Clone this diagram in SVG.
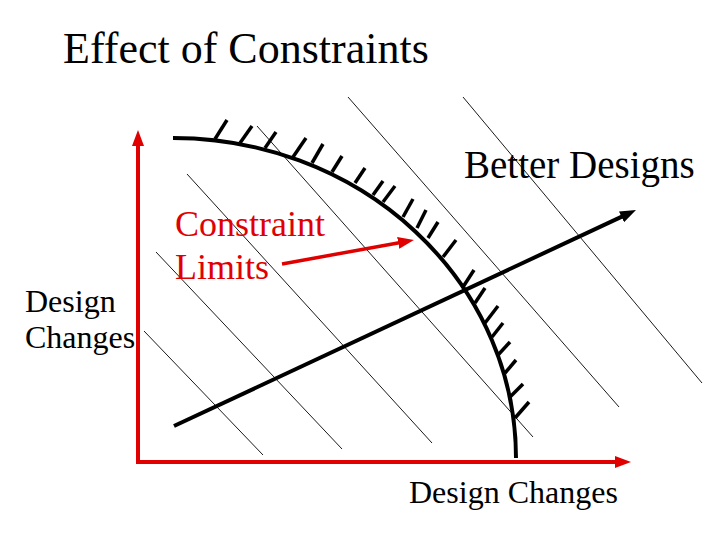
<svg xmlns="http://www.w3.org/2000/svg" width="720" height="540" viewBox="0 0 720 540">
  <style>
    .txt { font-family: "Liberation Serif", "Times New Roman", serif; }
    .black { fill: #000; }
    .red { fill: #e00000; }
    .thin { stroke: #000; stroke-width: 0.9; fill: none; }
    .thick { stroke: #000; stroke-width: 4; fill: none; }
    .tick { stroke: #000; stroke-width: 3.5; stroke-linecap: butt; }
    .redline { stroke: #e00000; fill: none; }
  </style>
  <defs>
    <marker id="headBlack" markerUnits="userSpaceOnUse" viewBox="0 0 16 12" markerWidth="16" markerHeight="12" refX="1" refY="6" orient="auto">
      <path d="M0,0 L16,6 L0,12 z" fill="#000"/>
    </marker>
    <marker id="headRed" markerUnits="userSpaceOnUse" viewBox="0 0 16 12" markerWidth="16" markerHeight="12" refX="1" refY="6" orient="auto-start-reverse">
      <path d="M0,0 L16,6 L0,12 z" fill="#e00000"/>
    </marker>
  </defs>
  <rect width="720" height="540" fill="#fff"/>

  <g id="title">
    <text class="txt black" x="63" y="63" font-size="44">Effect of Constraints</text>
  </g>

  <g id="objective-contours">
    <line class="thin" x1="144" y1="331" x2="263" y2="455"/>
    <line class="thin" x1="156" y1="252" x2="342" y2="449"/>
    <line class="thin" x1="187" y1="174" x2="432" y2="443"/>
    <line class="thin" x1="257" y1="126" x2="533" y2="437"/>
    <line class="thin" x1="348" y1="97" x2="619" y2="407"/>
    <line class="thin" x1="463" y1="97" x2="702" y2="383"/>
  </g>

  <g id="axes">
    <polyline class="redline" stroke-width="4" stroke-linejoin="miter" points="138,145 138,462 616,462" marker-start="url(#headRed)" marker-end="url(#headRed)"/>
  </g>

  <g id="constraint-boundary">
    <path class="thick" d="M173,138 A343,320 0 0 1 516,458"/>
    <g id="hatching">
      <line class="tick" x1="215" y1="139" x2="227" y2="120"/>
      <line class="tick" x1="240" y1="143" x2="252" y2="126"/>
      <line class="tick" x1="265" y1="148" x2="276" y2="132"/>
      <line class="tick" x1="293" y1="157" x2="306" y2="138"/>
      <line class="tick" x1="312" y1="163" x2="323" y2="144"/>
      <line class="tick" x1="332" y1="172" x2="342" y2="156"/>
      <line class="tick" x1="355" y1="183" x2="365" y2="168"/>
      <line class="tick" x1="373" y1="195" x2="383" y2="181"/>
      <line class="tick" x1="383" y1="202" x2="395" y2="186"/>
      <line class="tick" x1="403" y1="217" x2="413" y2="199"/>
      <line class="tick" x1="417" y1="228" x2="426" y2="210"/>
      <line class="tick" x1="428" y1="238" x2="438" y2="222"/>
      <line class="tick" x1="443" y1="257" x2="456" y2="240"/>
      <line class="tick" x1="463" y1="287" x2="474" y2="270"/>
      <line class="tick" x1="475" y1="303" x2="485" y2="288"/>
      <line class="tick" x1="485" y1="323" x2="498" y2="306"/>
      <line class="tick" x1="492" y1="337" x2="503" y2="323"/>
      <line class="tick" x1="498" y1="355" x2="510" y2="342"/>
      <line class="tick" x1="505" y1="373" x2="516" y2="360"/>
      <line class="tick" x1="510" y1="397" x2="523" y2="384"/>
      <line class="tick" x1="515" y1="418" x2="529" y2="402"/>
    </g>
  </g>

  <g id="connectors">
    <line class="thick" x1="174" y1="426" x2="622.4" y2="216.4" marker-end="url(#headBlack)"/>
    <line class="redline" stroke-width="3.5" x1="282" y1="264" x2="399.2" y2="242.7" marker-end="url(#headRed)"/>
  </g>

  <g id="label-better-designs">
    <text class="txt black" x="464" y="178" font-size="39">Better Designs</text>
  </g>
  <g id="label-constraint-limits">
    <text class="txt red" x="175" y="236" font-size="36">Constraint</text>
    <text class="txt red" x="175" y="279" font-size="36">Limits</text>
  </g>
  <g id="label-y-axis">
    <text class="txt black" x="25" y="312" font-size="32">Design</text>
    <text class="txt black" x="25" y="348" font-size="32">Changes</text>
  </g>
  <g id="label-x-axis">
    <text class="txt black" x="409" y="503" font-size="32">Design Changes</text>
  </g>
</svg>
